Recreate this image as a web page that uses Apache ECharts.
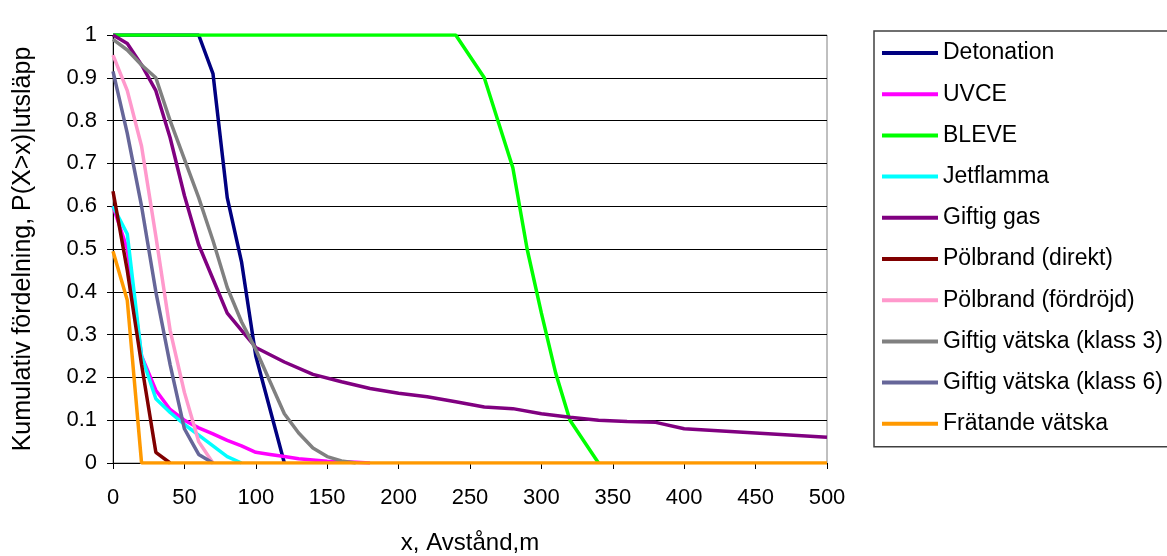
<!DOCTYPE html>
<html>
<head>
<meta charset="utf-8">
<script src="https://cdn.jsdelivr.net/npm/echarts@6/dist/echarts.min.js"></script>
<style>
  html, body { margin: 0; padding: 0; background: #fff; }
  #chart { width: 1167px; height: 556px; }
</style>
</head>
<body>
<div id="chart"></div>
<script>
// ---- Data (x in m, y = cumulative probability) ----
const seriesNames = ['Detonation', 'UVCE', 'BLEVE', 'Jetflamma', 'Giftig gas',
  'Pölbrand (direkt)', 'Pölbrand (fördröjd)', 'Giftig vätska (klass 3)',
  'Giftig vätska (klass 6)', 'Frätande vätska'];
const seriesColors = ['#000080', '#FF00FF', '#00FF00', '#00FFFF', '#800080',
  '#800000', '#FF99CC', '#808080', '#666699', '#FF9900'];

const detonation = [[0,1],[60,1],[70,0.91],[80,0.62],[90,0.47],[100,0.25],[120,0]];
const uvce = [[0,0.6],[10,0.5],[20,0.25],[30,0.17],[40,0.125],[50,0.1],[60,0.082],[70,0.068],
  [80,0.053],[90,0.04],[100,0.025],[110,0.02],[120,0.015],[130,0.01],[140,0.007],[150,0.004],[170,0.002],[180,0]];
const bleve = [[0,1],[240,1],[260,0.9],[280,0.69],[290,0.5],[300,0.35],[310,0.21],[320,0.1],[340,0]];
const jetflamma = [[0,0.6],[10,0.535],[20,0.25],[30,0.15],[40,0.118],[50,0.09],[60,0.065],[70,0.04],[80,0.015],[90,0]];
const giftigGas = [[0,1],[10,0.98],[20,0.93],[30,0.87],[40,0.76],[50,0.625],[60,0.51],[70,0.43],[80,0.35],
  [90,0.31],[100,0.27],[120,0.236],[140,0.207],[160,0.19],[180,0.174],[200,0.163],[220,0.155],[240,0.143],
  [260,0.131],[280,0.127],[300,0.115],[320,0.107],[340,0.1],[360,0.097],[380,0.095],[400,0.08],[450,0.07],[500,0.06]];
const polDirekt = [[0,0.635],[10,0.45],[20,0.23],[30,0.025],[40,0]];
const polFordrojd = [[0,0.953],[10,0.87],[20,0.74],[30,0.53],[40,0.31],[50,0.165],[60,0.05],[70,0]];
const klass3 = [[0,0.99],[10,0.965],[20,0.93],[30,0.9],[40,0.8],[50,0.71],[60,0.62],[70,0.52],[80,0.41],
  [90,0.33],[100,0.265],[110,0.19],[120,0.115],[130,0.07],[140,0.035],[150,0.015],[160,0.005],[170,0]];
const klass6 = [[0,0.915],[10,0.77],[20,0.6],[30,0.4],[40,0.23],[50,0.08],[55,0.05],[60,0.02],[70,0]];
const fratande = [[0,0.495],[10,0.38],[20,0],[500,0]];

const xTicks = [0, 50, 100, 150, 200, 250, 300, 350, 400, 450, 500];
const yTicks = [0, 0.1, 0.2, 0.3, 0.4, 0.5, 0.6, 0.7, 0.8, 0.9, 1];

const allData = [detonation, uvce, bleve, jetflamma, giftigGas, polDirekt, polFordrojd, klass3, klass6, fratande];

const FONT = '"Liberation Sans", Arial, sans-serif';
const chart = echarts.init(document.getElementById('chart'), null, { renderer: 'canvas' });

chart.setOption({
  animation: false,
  backgroundColor: '#ffffff',
  textStyle: { fontFamily: FONT },
  grid: {
    left: 113, right: 340, top: 35, bottom: 93,
    containLabel: false, outerBoundsMode: 'none',
    show: true, borderColor: '#808080', borderWidth: 1, backgroundColor: 'transparent'
  },
  legend: {
    orient: 'vertical',
    left: 874, top: 31,
    padding: [10, 300, 11, 8],
    itemWidth: 56, itemHeight: 4, itemGap: 17.2,
    icon: 'rect',
    borderColor: '#404040', borderWidth: 1.5,
    textStyle: { fontFamily: FONT, fontSize: 23, color: '#000', lineHeight: 24 },
    data: seriesNames
  },
  xAxis: {
    type: 'value',
    min: xTicks[0], max: xTicks[xTicks.length - 1], interval: 50,
    name: 'x, Avstånd,m', nameLocation: 'middle', nameGap: 68,
    nameTextStyle: { fontFamily: FONT, fontSize: 24, color: '#000' },
    axisLine: { show: true, lineStyle: { color: '#000', width: 1 } },
    axisTick: { show: true, length: 6, lineStyle: { color: '#000' } },
    axisLabel: { fontFamily: FONT, fontSize: 22, color: '#000', margin: 24 },
    splitLine: { show: false }
  },
  yAxis: {
    type: 'value',
    min: yTicks[0], max: yTicks[yTicks.length - 1], interval: 0.1,
    name: 'Kumulativ fördelning, P(X>x)|utsläpp', nameLocation: 'middle', nameGap: 77,
    nameTextStyle: { fontFamily: FONT, fontSize: 25, color: '#000' },
    axisLine: { show: true, lineStyle: { color: '#000', width: 1 } },
    axisTick: { show: true, length: 6, lineStyle: { color: '#000' } },
    axisLabel: {
      fontFamily: FONT, fontSize: 22, color: '#000', margin: 16,
      formatter: v => (Math.abs(v) < 1e-9 ? '0' : Math.abs(v - 1) < 1e-9 ? '1' : v.toFixed(1))
    },
    splitLine: { show: true, lineStyle: { color: '#000', width: 1 } }
  },
  series: seriesNames.map((name, i) => ({
    name,
    type: 'line',
    data: allData[i],
    showSymbol: false,
    symbol: 'none',
    smooth: false,
    color: seriesColors[i],
    lineStyle: { color: seriesColors[i], width: 3.5 },
    z: 2 + i
  }))
});
</script>
</body>
</html>
